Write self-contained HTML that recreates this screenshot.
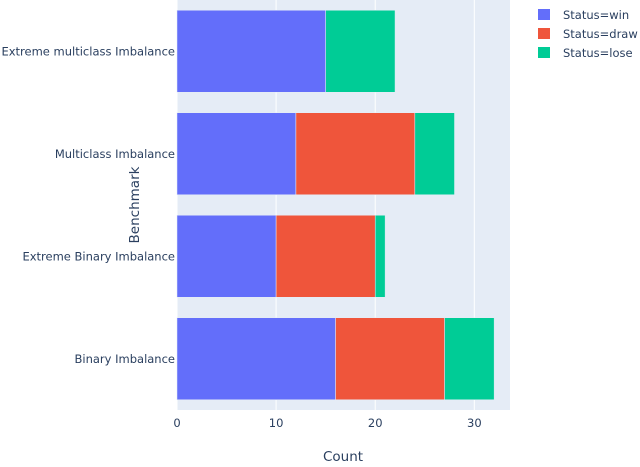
<!DOCTYPE html>
<html><head><meta charset="utf-8"><style>
body{margin:0;background:#fff;}
svg{font-family:"DejaVu Sans","Liberation Sans",sans-serif;}
</style></head><body>
<svg id="c" width="640" height="462"></svg>
<script>
const categories=["Extreme multiclass Imbalance","Multiclass Imbalance","Extreme Binary Imbalance","Binary Imbalance"];
const winVals=[15,12,10,16];
const drawVals=[0,12,10,11];
const loseVals=[7,4,1,5];
const xTicks=[0,10,20,30];
const seriesNames=["Status=win","Status=draw","Status=lose"];
const colors=["#636efa","#ef553b","#00cc96"];
const NS="http://www.w3.org/2000/svg";
const svg=document.getElementById('c');
const L=177,R=510,T=0,B=410,xmax=33.6;
function x(v){return L+v/xmax*(R-L);}
const band=(B-T)/categories.length;
function yc(i){return T+band*(i+0.5);}
function mk(t,a,p){const e=document.createElementNS(NS,t);for(const k in a)e.setAttribute(k,a[k]);(p||svg).appendChild(e);return e;}
const bg=mk('rect',{x:L,y:T,width:R-L,height:B-T,fill:'#e5ecf6'});


xTicks.forEach(t=>{
  const g=mk('line',{x1:x(t),x2:x(t),y1:T,y2:B,stroke:'#fff','stroke-width':1});
  
  
  const tx=mk('text',{x:x(t),y:B+17,'text-anchor':'middle','font-size':11.5,fill:'#2a3f5f'});
  tx.textContent=t;
  
  
});
const series=[winVals,drawVals,loseVals];
categories.forEach((c,i)=>{
  let acc=0;
  series.forEach((s,j)=>{
    const v=s[i];
    if(v>0){
      const r=mk('rect',{x:x(acc),y:yc(i)-band*0.4,width:x(acc+v)-x(acc),height:band*0.8,fill:colors[j],stroke:'#e5ecf6','stroke-width':0.5});
      
      
    }
    acc+=v;
  });
  const tl=mk('text',{x:L-2,y:yc(i)+4,'text-anchor':'end','font-size':11.5,fill:'#2a3f5f'});
  tl.textContent=c;
  
  
});
const xt=mk('text',{x:343,y:461,'text-anchor':'middle','font-size':13.5,fill:'#2a3f5f'});
xt.textContent='Count';


const yt=mk('text',{x:139,y:205,'text-anchor':'middle','font-size':13.5,fill:'#2a3f5f',transform:'rotate(-90 139 205)'});
yt.textContent='Benchmark';


seriesNames.forEach((n,j)=>{
  const g=mk('g',{});
  
  
  mk('rect',{x:538,y:9+j*19,width:12,height:11,fill:colors[j]},g);
  const t=mk('text',{x:563,y:19+j*19,'font-size':11.5,fill:'#2a3f5f'},g);
  t.textContent=n;
});
</script>
</body></html>
